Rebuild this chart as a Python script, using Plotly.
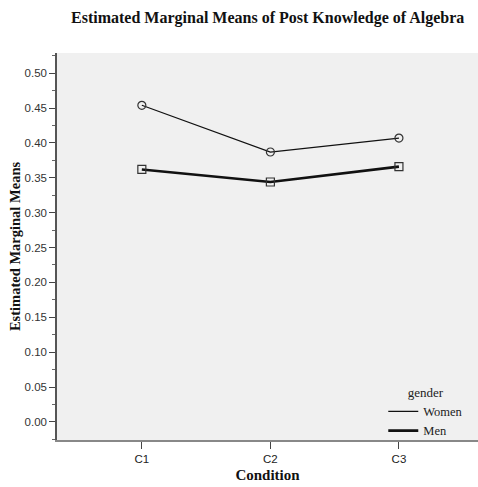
import plotly.graph_objects as go

conditions = ["C1", "C2", "C3"]
women_means = [0.454, 0.387, 0.407]
men_means = [0.362, 0.344, 0.366]
y_ticks = [0.00, 0.05, 0.10, 0.15, 0.20, 0.25, 0.30, 0.35, 0.40, 0.45, 0.50]
y_tick_labels = [f"{v:.2f}" for v in y_ticks]

serif = "Liberation Serif, Times New Roman, serif"
sans = "Liberation Sans, Arial, sans-serif"

fig = go.Figure()

series = [
    ("Women", women_means, 1.2, "circle-open"),
    ("Men", men_means, 2.6, "square-open"),
]
for name, vals, lw, sym in series:
    # line shown in legend
    fig.add_trace(go.Scatter(
        x=conditions, y=vals, mode="lines", name=name,
        line=dict(color="#111111", width=lw),
    ))
    # open markers at each mean
    fig.add_trace(go.Scatter(
        x=conditions, y=vals, mode="markers", showlegend=False,
        marker=dict(symbol=sym, size=8, color="#333333",
                    line=dict(color="#333333", width=1.2)),
    ))

fig.update_layout(
    width=478, height=487,
    margin=dict(l=57, r=0, t=53, b=47),
    paper_bgcolor="white",
    plot_bgcolor="#f0f0f0",
    title=dict(
        text="<b>Estimated Marginal Means of Post Knowledge of Algebra</b>",
        font=dict(family=serif, size=16, color="#111111"),
        x=0.56, xanchor="center", y=0.965, yanchor="middle",
    ),
    showlegend=True,
    legend=dict(
        title=dict(text="gender", side="top center",
                   font=dict(family=serif, size=13, color="#222222")),
        font=dict(family=serif, size=12.5, color="#222222"),
        x=0.775, xanchor="left", y=-0.015, yanchor="bottom",
        bgcolor="rgba(0,0,0,0)", itemwidth=30, tracegroupgap=0,
    ),
)

fig.update_xaxes(
    type="category",
    range=[-0.66, 2.615],
    showgrid=False, zeroline=False,
    showline=True, linecolor="#888888", linewidth=1.5,
    ticks="outside", ticklen=7, tickcolor="#444444", tickwidth=1,
    tickfont=dict(family=sans, size=11.5, color="#222222"),
    title=dict(text="<b>Condition</b>", font=dict(family=serif, size=15, color="#111111"),
               standoff=6),
)

fig.update_yaxes(
    range=[-0.026, 0.529],
    tickvals=y_ticks, ticktext=y_tick_labels,
    showgrid=False, zeroline=False,
    showline=True, linecolor="#555555", linewidth=1.5,
    ticks="outside", ticklen=6, tickcolor="#444444", tickwidth=1,
    minor=dict(dtick=0.025, tick0=0.025, ticks="outside", ticklen=3,
               tickcolor="#666666", showgrid=False),
    tickfont=dict(family=sans, size=11.5, color="#333333"),
    title=dict(text="<b>Estimated Marginal Means</b>",
               font=dict(family=serif, size=14.5, color="#111111"), standoff=0),
)

fig.write_html("out.html")
